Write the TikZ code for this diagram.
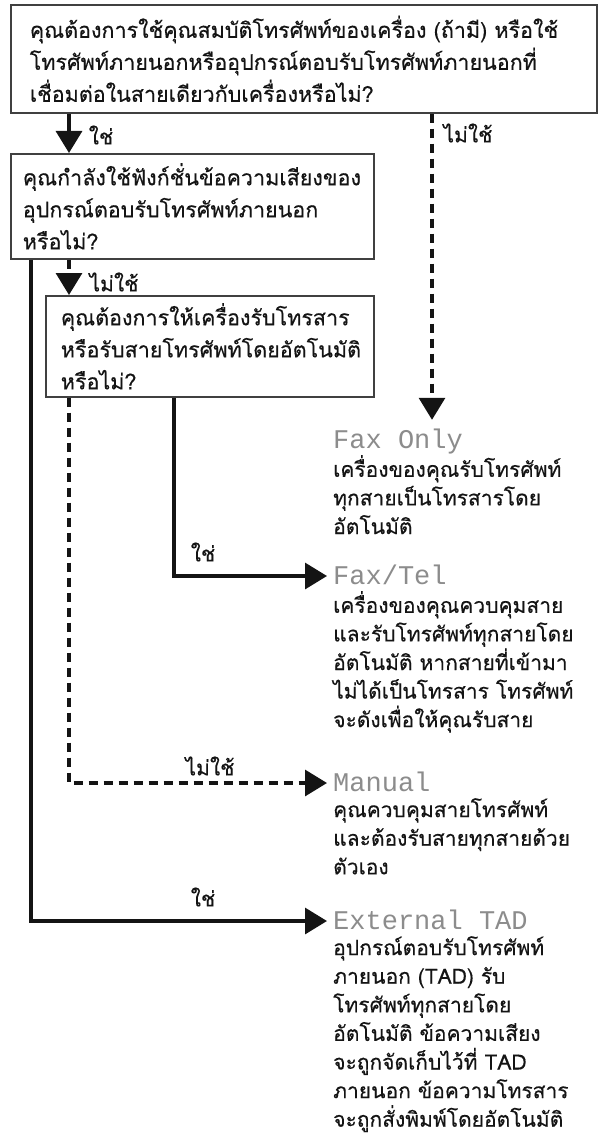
\documentclass[tikz,border=0pt]{standalone}
\usepackage{fontspec}
\setmainfont{Liberation Sans}
\newfontfamily\thai[Script=Thai,FakeBold=0.4]{Loma}
\newfontfamily\lcd{Liberation Mono}
\usetikzlibrary{arrows.meta}
\definecolor{lcdgray}{gray}{0.55}
\definecolor{boxline}{gray}{0.25}
\definecolor{ink}{gray}{0.08}
\begin{document}
\begin{tikzpicture}[x=1pt,y=-1pt,
  qbox/.style={draw=boxline, line width=1.6pt, anchor=north west, align=left,
    font=\thai\fontsize{21.5}{32}\selectfont, text=ink},
  head/.style={anchor=west, font=\lcd\fontsize{27}{27}\selectfont, text=lcdgray,
    inner xsep=6pt, inner ysep=10pt, text height=18pt, text depth=2pt},
  desc/.style={anchor=north west, align=left, text width=270pt, inner xsep=6pt,
    inner ysep=0pt, font=\thai\fontsize{21}{28.6}\selectfont, text=ink},
  lbl/.style={font=\thai\fontsize{21}{24}\selectfont, text=ink, inner sep=0pt},
  sarr/.style={draw=ink, line width=3.2pt, -{Triangle[length=22pt,width=26pt]}},
  darr/.style={sarr, dash pattern=on 9pt off 6pt},
]
\useasboundingbox (0,0) rectangle (601,1137);

% question boxes
\node[qbox, minimum width=586pt, minimum height=108pt, text width=548pt, inner xsep=19pt] (b1) at (10,4)
  {คุณต้องการใช้คุณสมบัติโทรศัพท์ของเครื่อง (ถ้ามี) หรือใช้\\โทรศัพท์ภายนอกหรืออุปกรณ์ตอบรับโทรศัพท์ภายนอกที่\\เชื่อมต่อในสายเดียวกับเครื่องหรือไม่?};
\node[qbox, minimum width=363pt, minimum height=105pt, text width=339pt, inner xsep=12pt] (b2) at (10,153)
  {คุณกำลังใช้ฟังก์ชั่นข้อความเสียงของ\\อุปกรณ์ตอบรับโทรศัพท์ภายนอก\\หรือไม่?};
\node[qbox, minimum width=328pt, minimum height=101pt, text width=298pt, inner xsep=15pt] (b3) at (45,295)
  {คุณต้องการให้เครื่องรับโทรสาร\\หรือรับสายโทรศัพท์โดยอัตโนมัติ\\หรือไม่?};

% outcomes
\node[head] (h1) at (327,440) {Fax Only};
\node[desc] (d1) at (327,455) {เครื่องของคุณรับโทรศัพท์\\ทุกสายเป็นโทรสารโดย\\อัตโนมัติ};
\node[head] (h2) at (327,576) {Fax/Tel};
\node[desc] (d2) at (327,591) {เครื่องของคุณควบคุมสาย\\และรับโทรศัพท์ทุกสายโดย\\อัตโนมัติ หากสายที่เข้ามา\\ไม่ได้เป็นโทรสาร โทรศัพท์\\จะดังเพื่อให้คุณรับสาย};
\node[head] (h3) at (327,783) {Manual};
\node[desc] (d3) at (327,798) {คุณควบคุมสายโทรศัพท์\\และต้องรับสายทุกสายด้วย\\ตัวเอง};
\node[head] (h4) at (327,921) {External TAD};
\node[desc] (d4) at (327,936) {อุปกรณ์ตอบรับโทรศัพท์\\ภายนอก (TAD) รับ\\โทรศัพท์ทุกสายโดย\\อัตโนมัติ ข้อความเสียง\\จะถูกจัดเก็บไว้ที่ TAD\\ภายนอก ข้อความโทรสาร\\จะถูกสั่งพิมพ์โดยอัตโนมัติ};

% connector columns
\coordinate (xa) at (69,0);
\coordinate (xl) at (31,0);
\coordinate (xm) at (174,0);
\coordinate (xr) at (432,0);

\draw[sarr] (b1.south -| xa) -- (b2.north -| xa);
\draw[darr] (b1.south -| xr) -- (h1.north -| xr);
\draw[darr] (b2.south -| xa) -- (b3.north -| xa);
\draw[sarr] (b3.south -| xm) |- (h2.west);
\draw[darr] (b3.south -| xa) |- (h3.west);
\draw[sarr] (b2.south -| xl) |- (h4.west);

% labels
\node[lbl] (l1) at (101,135) {ใช่};
\node[lbl] (l2) at (468,133) {ไม่ใช้};
\node[lbl] (l3) at (114,282) {ไม่ใช้};
\node[lbl] (l4) at (203,552) {ใช่};
\node[lbl] (l5) at (210,766) {ไม่ใช้};
\node[lbl] (l6) at (203,897) {ใช่};
\end{tikzpicture}
\end{document}
